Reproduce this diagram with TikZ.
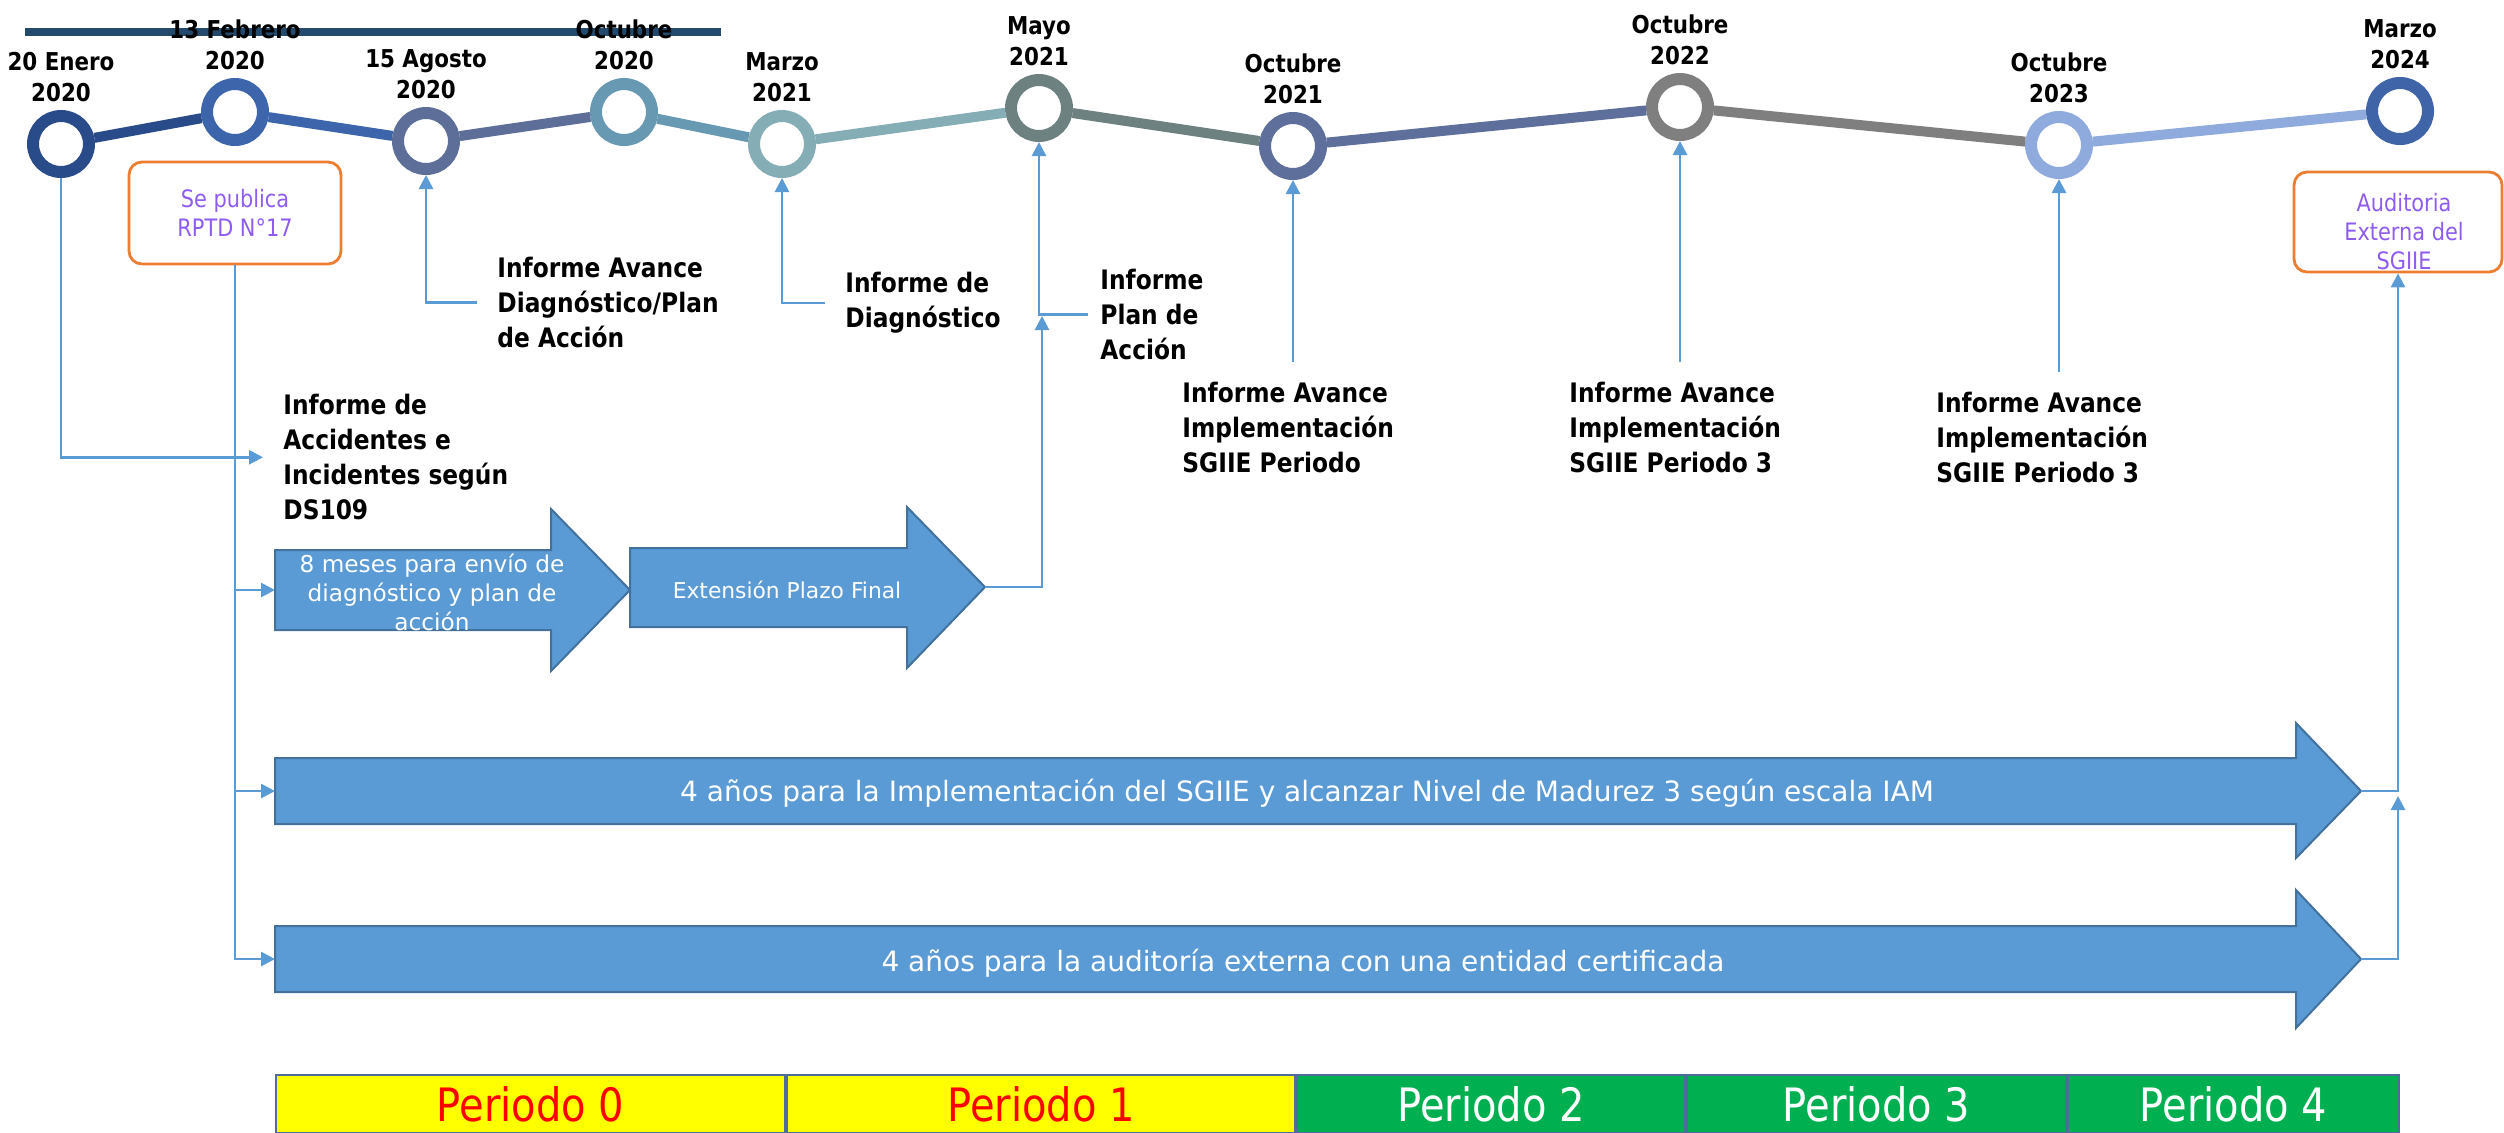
\documentclass[tikz,border=0pt]{standalone}
\usepackage{fontspec}
\setmainfont{DejaVu Sans}[FakeStretch=0.87]
\newfontfamily\arrowfont{DejaVu Sans}
\usetikzlibrary{arrows.meta, positioning}

\definecolor{lineblue}{RGB}{91,155,213}
\definecolor{arrowblue}{RGB}{91,155,213}
\definecolor{arrowedge}{RGB}{65,113,156}
\definecolor{boxorange}{RGB}{237,125,49}
\definecolor{notepurple}{RGB}{142,92,240}
\definecolor{barnavy}{RGB}{35,74,108}
\definecolor{celledge}{RGB}{79,109,155}
\definecolor{pgreen}{RGB}{0,176,80}
\definecolor{pred}{RGB}{255,0,0}
\definecolor{pyellow}{RGB}{255,255,0}
% ring colours of the timeline
\definecolor{cEne20}{RGB}{41,75,138}
\definecolor{cFeb20}{RGB}{61,101,171}
\definecolor{cAgo20}{RGB}{93,111,152}
\definecolor{cOct20}{RGB}{104,153,179}
\definecolor{cMar21}{RGB}{133,173,181}
\definecolor{cMay21}{RGB}{110,129,129}
\definecolor{cOct21}{RGB}{93,111,154}
\definecolor{cOct22}{RGB}{127,127,127}
\definecolor{cOct23}{RGB}{143,170,220}
\definecolor{cMar24}{RGB}{63,100,168}

\begin{document}
\begin{tikzpicture}[
  x=0.5pt, y=-0.5pt,
  conn/.style={-{Triangle[length=7pt,width=7pt]}, draw=lineblue, line width=1.4pt},
  ring/.style={circle, draw=#1, fill=white, line width=6pt, minimum size=28pt, inner sep=0pt},
  seg/.style={draw=#1, line width=5pt},
  date/.style={font=\bfseries\fontsize{12.3}{15.5}\selectfont, align=center, inner sep=0pt},
  info/.style={font=\bfseries\fontsize{13.4}{17.5}\selectfont, align=left, inner sep=0pt, anchor=north west},
  note/.style={draw=boxorange, line width=1.4pt, rounded corners=6.5pt, text=notepurple,
    font=\fontsize{12}{14.5}\selectfont, align=center, inner sep=0pt},
  notetext/.style={text=notepurple, font=\fontsize{12}{14.5}\selectfont, align=center, inner sep=0pt},
  blockarrow/.style={fill=arrowblue, draw=arrowedge, line width=1pt},
  arrtext/.style={text=white, align=center, inner sep=0pt},
  pcell/.style={draw=celledge, line width=1pt, minimum height=29pt, inner sep=0pt,
    font=\fontsize{23}{26}\selectfont},
  node distance=4pt
]
\useasboundingbox (0,0) rectangle (2504,1132);

% =========================
% Timeline
% =========================
\draw[barnavy, line width=4pt] (25,32) -- (721,32);

\node[ring=cEne20] (ene20) at (61,144) {};
\node[ring=cFeb20] (feb20) at (235,112) {};
\node[ring=cAgo20] (ago20) at (426,141) {};
\node[ring=cOct20] (oct20) at (624,112) {};
\node[ring=cMar21] (mar21) at (782,144) {};
\node[ring=cMay21] (may21) at (1039,108) {};
\node[ring=cOct21] (oct21) at (1293,146) {};
\node[ring=cOct22] (oct22) at (1680,107) {};
\node[ring=cOct23] (oct23) at (2059,145) {};
\node[ring=cMar24] (mar24) at (2400,111) {};

\draw[seg=cEne20] (ene20) -- (feb20);
\draw[seg=cFeb20] (feb20) -- (ago20);
\draw[seg=cAgo20] (ago20) -- (oct20);
\draw[seg=cOct20] (oct20) -- (mar21);
\draw[seg=cMar21] (mar21) -- (may21);
\draw[seg=cMay21] (may21) -- (oct21);
\draw[seg=cOct21] (oct21) -- (oct22);
\draw[seg=cOct22] (oct22) -- (oct23);
\draw[seg=cOct23] (oct23) -- (mar24);

\node[date, above=of ene20] (lene20) {20 Enero\\2020};
\node[date, above=of feb20] (lfeb20) {13 Febrero\\2020};
\node[date, above=of ago20] (lago20) {15 Agosto\\2020};
\node[date, above=of oct20] (loct20) {Octubre\\2020};
\node[date, above=of mar21] (lmar21) {Marzo\\2021};
\node[date, above=of may21] (lmay21) {Mayo\\2021};
\node[date, above=of oct21] (loct21) {Octubre\\2021};
\node[date, above=of oct22] (loct22) {Octubre\\2022};
\node[date, above=of oct23] (loct23) {Octubre\\2023};
\node[date, above=of mar24] (lmar24) {Marzo\\2024};

% =========================
% Boxes and reports
% =========================
\node[note, minimum width=106pt, minimum height=51pt] (rptd) at (235,213)
{Se publica\\RPTD N°17};
\node[note, minimum width=104pt, minimum height=50pt] (audit) at (2398,222) {};
\node[notetext] (audittext) at (2404,232) {Auditoria\\Externa del\\SGIIE};

\node[info] (infacc) at (283,394) {Informe de\\Accidentes e\\Incidentes según\\DS109};
\node[info] (avdiag) at (497,257) {Informe Avance\\Diagnóstico/Plan\\de Acción};
\node[info] (infdiag) at (845,272) {Informe de\\Diagnóstico};
\node[info] (infplan) at (1100,269) {Informe\\Plan de\\Acción};
\node[info] (avimp1) at (1182,382) {Informe Avance\\Implementación\\SGIIE Periodo};
\node[info] (avimp2) at (1569,382) {Informe Avance\\Implementación\\SGIIE Periodo 3};
\node[info] (avimp3) at (1936,392) {Informe Avance\\Implementación\\SGIIE Periodo 3};

% =========================
% Block arrows
% =========================
\filldraw[blockarrow] (275,550) -- (551,550) -- (551,509) -- (630,590) -- (551,671) -- (551,630) -- (275,630) -- cycle;
\filldraw[blockarrow] (630,548) -- (907,548) -- (907,507) -- (985,587) -- (907,668) -- (907,627) -- (630,627) -- cycle;
\filldraw[blockarrow] (275,758) -- (2296,758) -- (2296,723) -- (2361,791) -- (2296,858) -- (2296,824) -- (275,824) -- cycle;
\filldraw[blockarrow] (275,926) -- (2296,926) -- (2296,890) -- (2361,959) -- (2296,1028) -- (2296,992) -- (275,992) -- cycle;

\coordinate (mesestail) at (275,590);
\coordinate (exttip) at (985,587);
\coordinate (imptail) at (275,791);
\coordinate (imptip) at (2361,791);
\coordinate (audtail) at (275,959);
\coordinate (audtip) at (2361,959);

\node[arrtext, font=\arrowfont\fontsize{11.6}{14.5}\selectfont] (meses) at (432,592)
{8 meses para envío de\\diagnóstico y plan de\\acción};
\node[arrtext, font=\arrowfont\fontsize{10.9}{14.5}\selectfont] (ext) at (787,590)
{Extensión Plazo Final};
\node[arrtext, font=\arrowfont\fontsize{14}{17}\selectfont] (imp) at (1307,793)
{4 años para la Implementación del SGIIE y alcanzar Nivel de Madurez 3 según escala IAM};
\node[arrtext, font=\arrowfont\fontsize{14}{17}\selectfont] (aud) at (1303,963)
{4 años para la auditoría externa con una entidad certificada};

% =========================
% Connectors
% =========================
\draw[conn] (ene20) |- ([xshift=-10pt]infacc.west);
\draw[conn] (rptd) |- (mesestail);
\draw[conn] (rptd) |- (imptail);
\draw[conn] (rptd) |- (audtail);
\draw[conn] ([xshift=-10pt]avdiag.west) -| (ago20);
\draw[conn] ([xshift=-10pt]infdiag.west) -| (mar21);
\draw[conn] ([xshift=-6pt]infplan.west) -| (may21);
\coordinate (planjoin) at (1042,316);
\draw[conn] (exttip) -| (planjoin);
\draw[conn] ([yshift=10pt]avimp1.north -| oct21) -- (oct21);
\draw[conn] ([yshift=10pt]avimp2.north -| oct22) -- (oct22);
\draw[conn] ([yshift=10pt]avimp3.north -| oct23) -- (oct23);
\draw[conn] (imptip) -| (audit);
\coordinate (auditjoin) at (2398,796);
\draw[conn] (audtip) -| (auditjoin);

% =========================
% Periods
% =========================
\node[pcell, fill=pyellow, text=pred, minimum width=254.5pt, anchor=north west] (p0) at (275,1074) {Periodo 0};
\node[pcell, fill=pyellow, text=pred, minimum width=254pt, right=0pt of p0] (p1) {Periodo 1};
\node[pcell, fill=pgreen, text=white, minimum width=194pt, right=0pt of p1] (p2) {Periodo 2};
\node[pcell, fill=pgreen, text=white, minimum width=189.5pt, right=0pt of p2] (p3) {Periodo 3};
\node[pcell, fill=pgreen, text=white, minimum width=165.5pt, right=0pt of p3] (p4) {Periodo 4};

\end{tikzpicture}
\end{document}
